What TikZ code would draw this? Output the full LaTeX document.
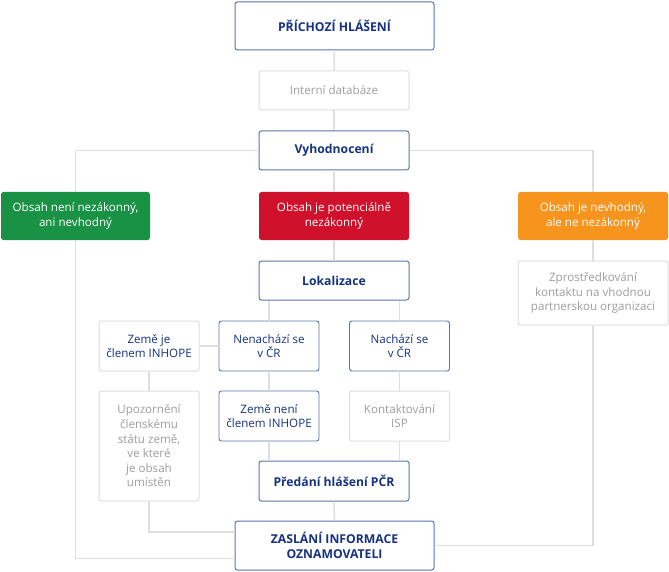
\documentclass[tikz,border=0pt]{standalone}
\usepackage{fontspec}
\setmainfont{Open Sans}
\usepackage{tikz}
\usetikzlibrary{calc}
\usetikzlibrary{positioning}

\definecolor{navy}{RGB}{22,50,128}
\definecolor{edgeblue}{RGB}{88,118,172}
\definecolor{paleline}{RGB}{222,222,222}
\definecolor{paletext}{RGB}{158,158,158}
\definecolor{okgreen}{RGB}{26,146,69}
\definecolor{badred}{RGB}{208,17,43}
\definecolor{warnorange}{RGB}{246,148,30}

\tikzset{
  box/.style={rectangle, rounded corners=2.5pt, align=center, inner sep=2pt,
              font=\fontsize{11.6}{14.6}\selectfont},
  mainbox/.style={box, draw=edgeblue, line width=1pt, fill=white, text=navy, font=\fontsize{12.2}{15}\selectfont\bfseries},
  bluebox/.style={box, draw=edgeblue, line width=0.9pt, fill=white, text=navy},
  greybox/.style={box, draw=paleline, line width=1pt, fill=white, text=paletext},
  colbox/.style={box, text=white},
  link/.style={draw=paleline, line width=1.5pt}
}

\begin{document}
\begin{tikzpicture}[x=1pt, y=-1pt]
\useasboundingbox (0,0) rectangle (669,572);

% top of the chain
\node[mainbox, minimum width=199pt, minimum height=48pt] (prich)  at (334.5, 26)  {PŘÍCHOZÍ HLÁŠENÍ};
\node[greybox, minimum width=150pt, minimum height=39pt] (intdb)  at (334, 90.5)  {Interní databáze};
\node[mainbox, minimum width=150pt, minimum height=39pt] (vyhod)  at (334, 150.5) {Vyhodnocení};

% three verdicts
\node[colbox, fill=okgreen,    minimum width=149pt, minimum height=48pt] (green)  at (75.5, 216) {Obsah není nezákonný,\\ani nevhodný};
\node[colbox, fill=badred,     minimum width=150pt, minimum height=48pt] (red)    at (334, 216)  {Obsah je potenciálně\\nezákonný};
\node[colbox, fill=warnorange, minimum width=150pt, minimum height=48pt] (orange) at (593, 216)  {Obsah je nevhodný,\\ale ne nezákonný};

\node[mainbox, minimum width=150pt, minimum height=39pt] (lokal)  at (334, 280.5) {Lokalizace};
\node[greybox, minimum width=150pt, minimum height=64pt] (zprost) at (593, 293)   {Zprostředkování\\kontaktu na vhodnou\\partnerskou organizaci};

% where the content is
\node[greybox, text=navy, minimum width=100pt, minimum height=50pt] (zeme) at (149, 346) {Země je\\členem INHOPE};
\node[bluebox, minimum width=100pt, minimum height=50pt] (nenach)  at (269, 346)   {Nenachází se\\v ČR};
\node[bluebox, minimum width=100pt, minimum height=50pt] (nach)    at (399.5, 346) {Nachází se\\v ČR};
\node[greybox, minimum width=100pt, minimum height=110pt] (upoz)   at (149, 446)   {Upozornění\\členskému\\státu země,\\ve které\\je obsah\\umístěn};
\node[bluebox, minimum width=100pt, minimum height=50pt] (zemene)  at (269, 416)   {Země není\\členem INHOPE};
\node[greybox, minimum width=100pt, minimum height=50pt] (kontakt) at (399.5, 416) {Kontaktování\\ISP};

\node[mainbox, minimum width=150pt, minimum height=40pt] (predani) at (334, 481)   {Předání hlášení PČR};
\node[mainbox, minimum width=199pt, minimum height=49pt] (zaslani) at (334.5, 545.5) {ZASLÁNÍ INFORMACE\\OZNAMOVATELI};

% connectors
\draw[link] (prich) -- (intdb);
\draw[link] (intdb) -- (vyhod);
\draw[link] (vyhod) -- (red);
\draw[link] (red) -- (lokal);
\draw[link] (vyhod.west) -| (green.north);
\draw[link] (vyhod.east) -| (orange.north);
\draw[link] (orange) -- (zprost);
\draw[link] (nenach.north |- lokal.south) -- (nenach.north);
\draw[link] (nach.north |- lokal.south) -- (nach.north);
\draw[link] (nenach) -- (zeme);
\draw[link] (zeme) -- (upoz);
\draw[link] (nenach) -- (zemene);
\draw[link] (nach) -- (kontakt);
\draw[link] (zemene.south) -- (zemene.south |- predani.north);
\draw[link] (kontakt.south) -- (kontakt.south |- predani.north);
\draw[link] (predani) -- (zaslani);
\draw[link] (upoz.south) |- ([yshift=13.5pt]zaslani.west);
\draw[link] (green.south) |- ([yshift=-13pt]zaslani.west);
\draw[link] (zprost.south) |- (zaslani.east);
\end{tikzpicture}
\end{document}
